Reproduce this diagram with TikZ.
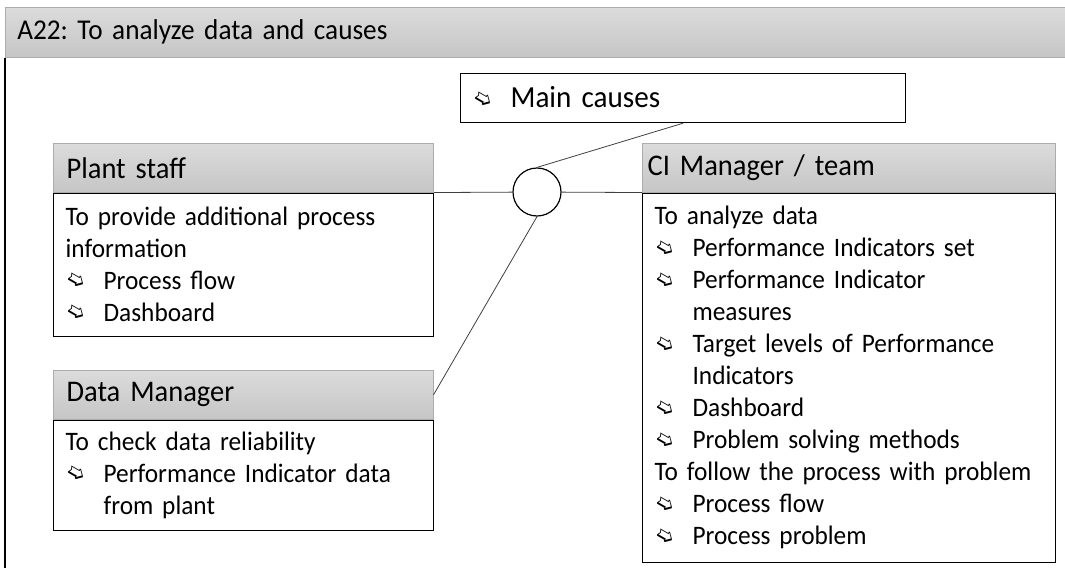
\documentclass[tikz,border=0pt]{standalone}
\usepackage{fontspec}
\setmainfont{Carlito}[WordSpace=0.8, FakeStretch=0.95]
\newfontfamily\symfont{DejaVu Sans}
\usetikzlibrary{positioning}
\frenchspacing
\hyphenpenalty=10000
\exhyphenpenalty=10000

% arrow bullet and hanging continuation
\newcommand{\itm}[1]{\makebox[28.5pt][l]{\raisebox{1.5pt}{\rotatebox[origin=c]{-30}{\symfont\fontsize{16}{16}\selectfont ➯}}}#1}
\newcommand{\cont}[1]{\hspace*{28.5pt}#1}

\tikzset{
    head/.style={rectangle, draw=gray!65, top color=gray!28, bottom color=gray!45, minimum height=36.75pt, inner xsep=10pt, inner ysep=0pt, anchor=north west, text width=#1, align=left, font=\fontsize{22.5}{24}\selectfont},
    body/.style={rectangle, draw, line width=0.9pt, fill=white, inner xsep=9pt, anchor=north west, text width=#1, align=left, font=\fontsize{20}{24}\selectfont},
    link/.style={draw=black!75, line width=0.6pt},
}

\begin{document}
\begin{tikzpicture}[x=0.75pt, y=-0.75pt]
    \useasboundingbox (0, 0) rectangle (1065, 568);

    % title bar and frame
    \node[head=777pt, minimum height=37.5pt, inner xsep=9pt, font=\fontsize{21.5}{24}\selectfont] (title) at (5, 7) {A22: To analyze data and causes};
    \coordinate (frameend) at (5, 568);
    \draw[line width=0.9pt] (title.south west) -- (frameend);

    % output
    \node[body=315.75pt, minimum height=36.75pt, font=\fontsize{23}{24}\selectfont] (causes) at (460, 73) {\itm{Main causes}};

    % actors
    \node[head=265pt] (staffhead) at (53, 143) {Plant staff};
    \node[body=267pt, minimum height=107.25pt] (staffbody) at (staffhead.south west) {To provide additional process\\ information\\ \itm{Process flow}\\ \itm{Dashboard}};

    \node[head=265pt] (datahead) at (53, 370) {Data Manager};
    \node[body=267pt, minimum height=82.5pt] (databody) at (datahead.south west) {To check data reliability\\ \itm{Performance Indicator data}\\ \cont{from plant}};

    \node[head=301.75pt, inner xsep=4pt] (cihead) at (642, 143) {CI Manager / team};
    \node[body=291.75pt, minimum height=276.75pt] (cibody) at (cihead.south west) {To analyze data\\ \itm{Performance Indicators set}\\ \itm{Performance Indicator}\\ \cont{measures}\\ \itm{Target levels of Performance}\\ \cont{Indicators}\\ \itm{Dashboard}\\ \itm{Problem solving methods}\\ To follow the process with problem\\ \itm{Process flow}\\ \itm{Process problem}};

    % junction
    \node[circle, draw, line width=0.9pt, fill=white, minimum size=36pt] (junction) at (537, 192) {};
    \draw[link] (staffbody.north east) -- (junction);
    \draw[link] (junction) -- (cibody.north west);
    \draw[link] (junction.north) -- (causes.south);
    \draw[link] (junction.south) -- (datahead.east);
\end{tikzpicture}
\end{document}
